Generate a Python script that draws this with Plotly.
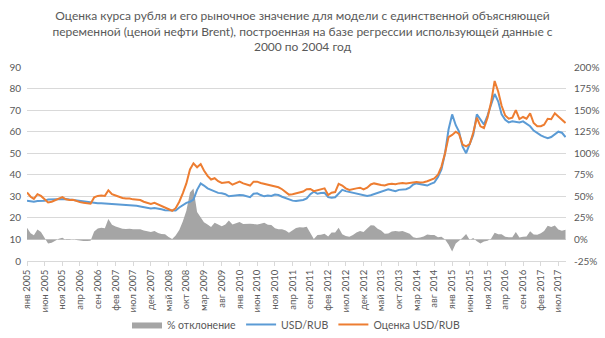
import pandas as pd
import plotly.graph_objects as go

# Monthly points, Jan 2005 .. Sep 2017
start_month = "2005-01-01"
usd_rub = [
    28.0, 27.8, 27.5, 27.8, 27.8, 28.0, 28.5, 28.6, 28.6, 28.6, 29.0, 28.8,
    28.5, 28.3, 28.0, 27.7, 27.5, 27.3, 27.0, 27.0, 26.8, 26.8, 26.7, 26.5,
    26.5, 26.4, 26.2, 26.0, 25.9, 25.8, 25.6, 25.6, 25.3, 24.9, 24.6, 24.4,
    24.6, 24.4, 24.0, 23.6, 23.5, 23.2, 23.4, 24.8, 26.0, 27.0, 27.5, 28.5,
    33.0, 36.0, 35.0, 33.7, 33.0, 32.2, 31.6, 31.4, 31.0, 30.0, 30.2, 30.6,
    30.6, 30.5, 30.0, 29.6, 31.2, 31.4, 30.6, 30.0, 30.4, 30.2, 30.8, 30.6,
    29.8, 29.2, 28.6, 28.0, 27.8, 28.0, 28.3, 29.0, 31.0, 32.2, 31.2, 31.5,
    31.6, 29.6, 29.3, 29.6, 31.5, 33.0, 32.4, 32.0, 31.6, 31.2, 31.0, 30.6,
    30.2, 30.5, 31.0, 31.6, 32.0, 32.8, 33.3, 32.8, 32.4, 33.0, 33.0, 33.3,
    34.0, 35.5, 36.0, 35.6, 35.3, 35.0, 35.8, 36.4, 39.0, 42.5, 50.0, 61.0,
    68.0, 63.0, 60.0, 53.0, 50.0, 54.5, 58.5, 68.0, 65.5, 63.3, 67.5, 73.0,
    77.5, 74.0, 68.0, 65.5, 64.3, 64.8, 64.5, 64.3, 64.8, 63.8, 62.5, 60.5,
    59.2, 58.3, 57.6, 57.0, 57.5, 59.0, 60.0, 59.5, 57.5,
]
usd_rub_estimate = [
    31.8, 29.8, 28.8, 31.0, 30.2, 28.6, 27.2, 27.5, 28.2, 28.8, 29.6, 28.6,
    28.3, 28.4, 27.8, 27.3, 27.0, 26.8, 26.6, 29.5, 30.2, 30.4, 30.2, 32.8,
    31.0, 30.4, 29.8, 29.2, 29.0, 29.0, 28.6, 28.6, 28.3, 27.5, 27.0, 26.5,
    27.0, 26.2, 25.5, 25.0, 24.2, 23.3, 24.5, 27.5, 31.5, 36.0, 42.5, 45.3,
    43.5, 45.0, 42.0, 39.5, 37.8, 38.4, 37.0, 36.2, 36.4, 36.6, 35.4, 36.2,
    36.8, 36.0, 35.5, 35.0, 36.8, 36.8, 36.2, 35.8, 35.6, 35.3, 34.8, 34.2,
    33.3, 32.2, 30.8, 31.0, 31.5, 32.0, 32.2, 33.3, 33.4, 32.4, 32.8, 33.2,
    33.7, 30.6, 31.7, 32.0, 35.8, 35.0, 33.7, 33.0, 33.2, 33.7, 34.0, 33.2,
    34.0, 35.5, 36.0, 35.5, 35.3, 35.0, 35.6, 35.8, 35.6, 36.0, 36.2, 36.0,
    36.2, 36.4, 36.6, 36.4, 36.5, 37.0, 37.6, 38.3, 40.0, 43.8, 50.0, 57.5,
    58.5, 60.0, 59.0, 54.0, 53.2, 54.2, 59.5, 66.5, 62.5, 61.7, 66.5, 73.5,
    83.5, 78.5, 72.0, 67.5, 66.0, 66.5, 70.0, 65.8, 66.8, 66.0, 68.5, 64.0,
    62.5, 62.5, 63.2, 66.0, 65.8, 68.5, 67.0, 65.5, 64.0,
]
month_names = ["янв", "фев", "мар", "апр", "май", "июн",
               "июл", "авг", "сен", "окт", "ноя", "дек"]
tick_step_months = 5
left_ticks = [0, 10, 20, 30, 40, 50, 60, 70, 80, 90]
right_ticks = [-25, 0, 25, 50, 75, 100, 125, 150, 175, 200]

title_lines = [
    "Оценка курса рубля и его рыночное значение для модели с единственной объясняющей",
    "переменной (ценой нефти Brent), построенная на базе регрессии использующей данные с",
    "2000 по 2004 год",
]

dates = pd.date_range(start_month, periods=len(usd_rub), freq="MS")
deviation = [(e / u - 1) * 100 for e, u in zip(usd_rub_estimate, usd_rub)]

tick_dates = dates[::tick_step_months]
tick_text = [f"{month_names[d.month - 1]} {d.year}" for d in tick_dates]

FONT = "Lato"
TXT = "#595959"
GRID = "#D9D9D9"

fig = go.Figure()
fig.add_trace(go.Scatter(
    x=dates, y=deviation, name="% отклонение", yaxis="y",
    mode="lines", line=dict(width=0, color="#A5A5A5"),
    fill="tozeroy", fillcolor="#A5A5A5",
))
fig.add_trace(go.Scatter(
    x=dates, y=usd_rub, name="USD/RUB", yaxis="y2",
    mode="lines", line=dict(width=2, color="#5B9BD5"),
))
fig.add_trace(go.Scatter(
    x=dates, y=usd_rub_estimate, name="Оценка USD/RUB", yaxis="y2",
    mode="lines", line=dict(width=2, color="#ED7D31"),
))

fig.update_layout(
    width=605, height=338,
    margin=dict(l=27, r=39, t=67, b=77, autoexpand=False),
    paper_bgcolor="white", plot_bgcolor="white",
    font=dict(family=FONT, size=10, color=TXT),
    title=dict(text="<br>".join(title_lines), x=0.5, xanchor="center",
               y=0.94, yanchor="top",
               font=dict(family=FONT, size=12, color=TXT)),
    showlegend=True,
    legend=dict(orientation="h", x=0.5, xanchor="center",
                yref="container", y=0.04, yanchor="middle",
                font=dict(size=10.5, color=TXT),
                bgcolor="rgba(0,0,0,0)",
                itemwidth=30, traceorder="normal"),
    xaxis=dict(
        range=[dates[0], pd.Timestamp("2017-09-05")],
        tickvals=list(tick_dates), ticktext=tick_text, tickangle=-90,
        showgrid=False, showline=True, linecolor=GRID, linewidth=1,
        ticks="outside", ticklen=4, tickcolor=GRID,
        tickfont=dict(size=9.5, color=TXT), zeroline=False,
        automargin=False,
    ),
    yaxis=dict(
        side="right", range=[-25, 200], tickvals=right_ticks,
        ticktext=[f"{v}%" for v in right_ticks],
        showgrid=True, gridcolor=GRID, gridwidth=1, zeroline=False,
        tickfont=dict(size=10, color=TXT), ticks="",
        ticklabelstandoff=7, automargin=False,
    ),
    yaxis2=dict(
        side="left", overlaying="y", range=[0, 90], tickvals=left_ticks,
        showgrid=False, zeroline=False,
        tickfont=dict(size=10, color=TXT), ticks="",
        ticklabelstandoff=5, automargin=False,
    ),
)

fig.write_html("out.html")
